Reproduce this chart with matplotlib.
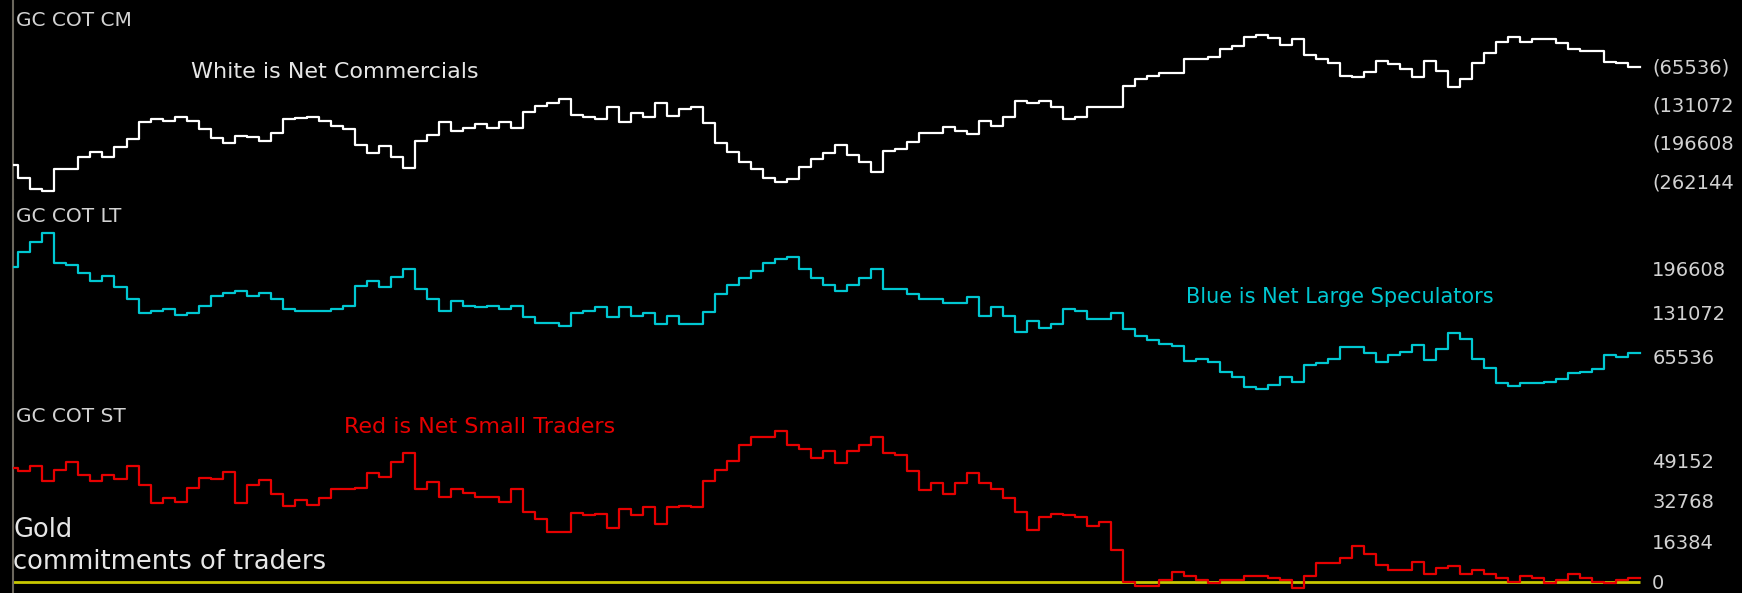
import numpy as np
import matplotlib.pyplot as plt

# weekly net positions, thousands of contracts
commercials = np.array([
    -235.4, -257.0, -277.0, -279.8, -242.8, -242.8, -221.1, -212.6, -222.3, -204.0,
    -191.5, -161.3, -156.7, -160.1, -153.9, -160.1, -174.4, -189.8, -197.2, -185.2,
    -186.9, -194.3, -180.1, -156.7, -155.6, -153.9, -160.1, -168.1, -174.4, -201.2,
    -215.4, -202.3, -221.1, -239.9, -194.3, -184.1, -161.3, -177.2, -171.5, -165.8,
    -171.5, -161.3, -171.5, -145.3, -134.5, -129.9, -123.1, -149.9, -153.9, -156.7,
    -136.8, -161.3, -147.0, -153.9, -129.9, -151.0, -139.6, -136.8, -164.1, -198.3,
    -212.6, -229.7, -242.8, -257.0, -263.9, -259.9, -239.4, -225.7, -215.4, -201.7,
    -218.3, -229.7, -246.8, -211.4, -208.6, -195.5, -181.2, -181.2, -171.0, -177.2,
    -182.4, -160.1, -168.1, -153.9, -125.9, -129.9, -125.9, -136.8, -157.3, -153.9,
    -136.8, -136.8, -136.8, -99.7, -88.9, -82.6, -78.6, -78.6, -54.7, -54.7,
    -51.2, -37.6, -31.3, -15.9, -13.1, -18.8, -30.2, -20.5, -47.3, -54.7,
    -60.4, -82.6, -85.5, -75.8, -57.5, -63.2, -71.2, -85.5, -57.5, -74.6,
    -102.6, -88.3, -60.4, -43.3, -24.5, -17.0, -24.5, -20.5, -20.5, -26.2,
    -37.6, -40.4, -40.4, -58.7, -61.5, -68.4])

large_specs = np.array([
    198.1, 221.3, 236.1, 248.5, 204.0, 201.0, 189.2, 177.8, 185.7, 168.4,
    150.6, 129.8, 133.3, 135.7, 126.8, 129.8, 141.2, 156.0, 159.5, 162.4,
    156.0, 159.5, 150.6, 135.7, 132.8, 132.8, 132.8, 135.7, 141.2, 170.8,
    177.3, 168.4, 183.2, 195.1, 165.4, 150.6, 132.8, 147.6, 141.2, 138.7,
    141.2, 135.7, 141.2, 123.9, 115.0, 115.0, 111.5, 129.8, 132.8, 138.7,
    123.9, 138.7, 126.3, 129.8, 114.5, 126.3, 114.5, 114.5, 132.3, 159.0,
    171.3, 182.7, 192.6, 204.0, 209.9, 212.9, 195.1, 182.7, 171.3, 162.4,
    171.3, 182.7, 195.1, 165.4, 165.4, 159.0, 150.6, 150.6, 144.6, 144.6,
    153.5, 126.3, 138.7, 126.3, 102.6, 117.9, 108.5, 114.5, 135.7, 132.8,
    120.9, 120.9, 129.8, 106.1, 96.7, 90.7, 84.8, 81.8, 59.6, 61.5,
    58.1, 43.2, 34.8, 20.0, 17.0, 23.5, 34.8, 28.4, 53.1, 55.6,
    61.5, 80.3, 80.3, 70.4, 58.1, 67.5, 72.9, 82.3, 60.6, 76.4,
    100.1, 91.2, 61.5, 49.2, 25.9, 22.5, 25.9, 25.9, 28.4, 31.9,
    40.8, 43.2, 46.7, 68.0, 64.5, 70.4])

small_traders = np.array([
    46.2, 45.0, 46.8, 40.8, 45.2, 48.6, 43.2, 40.8, 43.2, 41.4,
    47.0, 39.0, 31.7, 34.0, 32.4, 37.8, 42.1, 41.4, 44.6, 31.7,
    39.0, 41.2, 35.4, 30.6, 33.1, 30.9, 34.0, 37.4, 37.4, 38.1,
    43.9, 42.3, 48.6, 52.0, 37.4, 40.5, 34.4, 37.4, 35.8, 34.2,
    34.2, 32.4, 37.4, 28.4, 25.2, 20.0, 20.0, 27.7, 26.9, 27.5,
    21.9, 29.3, 26.9, 30.1, 23.5, 30.1, 30.8, 30.1, 40.6, 45.4,
    48.7, 55.2, 58.5, 58.5, 60.9, 55.2, 53.6, 50.2, 52.8, 47.9,
    52.8, 55.2, 58.5, 52.0, 51.2, 44.7, 37.3, 39.8, 35.6, 39.8,
    43.9, 39.8, 37.4, 34.0, 28.4, 21.1, 26.1, 27.5, 26.9, 26.1,
    22.7, 24.3, 12.8, 0.0, -1.6, -1.6, 0.7, 4.1, 2.4, 0.7,
    -0.7, 0.7, 0.7, 2.4, 2.4, 1.6, 0.7, -2.4, 2.4, 7.4,
    7.4, 9.7, 14.6, 11.3, 6.6, 4.9, 4.9, 8.1, 3.2, 5.7,
    6.5, 3.2, 4.9, 3.2, 1.6, 0.0, 2.4, 1.6, -0.7, 0.7,
    3.2, 1.6, 0.0, -0.7, 0.7, 1.5])

cm_ticks = [65536, 131072, 196608, 262144]
cm_labels = ['(65536)', '(131072', '(196608', '(262144']
lt_ticks = [196608, 131072, 65536]
st_ticks = [49152, 32768, 16384, 0]

W, H = 1742, 593
fig = plt.figure(figsize=(W / 100, H / 100), dpi=100, facecolor='black')
weeks = np.arange(len(commercials) + 1) - 1
grey = '#d2d2d2'


def panel(top, bottom, ylim):
    ax = fig.add_axes([13 / W, 1 - bottom / H, (1648 - 13) / W, (bottom - top) / H])
    ax.set_facecolor('black')
    for s in ['top', 'right', 'bottom']:
        ax.spines[s].set_visible(False)
    ax.spines['left'].set_color('#6b675d')
    ax.spines['left'].set_linewidth(1.5)
    ax.set_xticks([])
    ax.yaxis.tick_right()
    ax.tick_params(axis='y', length=0, pad=3, labelsize=14, labelcolor=grey)
    ax.set_xlim(-0.45, 135.67)
    ax.set_ylim(*ylim)
    return ax


def step(ax, vals, color):
    ax.plot(weeks, np.append(vals, vals[-1]), drawstyle='steps-post',
            color=color, lw=1.6, zorder=3)


def label(x, y, s, color=grey, size=14.5):
    fig.text(x / W, 1 - y / H, s, color=color, fontsize=size, ha='left', va='center')


ax1 = panel(0, 200, (-295.2, 46.7))
step(ax1, commercials, 'white')
ax1.set_yticks([-t / 1000 for t in cm_ticks], cm_labels)

ax2 = panel(200, 400, (1.24, 298.0))
step(ax2, large_specs, '#00c8d2')
ax2.set_yticks([t / 1000 for t in lt_ticks], [str(t) for t in lt_ticks])

ax3 = panel(400, 593, (-4.59, 73.6))
ax3.hlines(0, weeks[0], weeks[-1], color='#c8c800', lw=2, zorder=2)
step(ax3, small_traders, '#e60000')
ax3.set_yticks([t / 1000 for t in st_ticks], [str(t) for t in st_ticks])

label(16, 21, 'GC COT CM')
label(191, 72, 'White is Net Commercials', '#e6e6e6', 16)
label(16, 217, 'GC COT LT')
label(1186, 297, 'Blue is Net Large Speculators', '#00c8d2', 15)
label(16, 417, 'GC COT ST')
label(344, 427, 'Red is Net Small Traders', '#e60000', 16)
label(13, 530, 'Gold', '#e6e6e6', 18.5)
label(13, 562, 'commitments of traders', '#e6e6e6', 18.5)

fig.savefig('out.png', dpi=100, facecolor='black')
